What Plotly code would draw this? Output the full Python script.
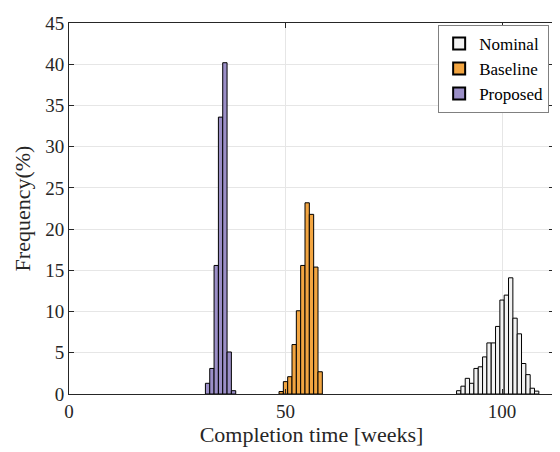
import plotly.graph_objects as go

# Bin centers (weeks) and frequencies (%)
nominal_x = list(range(90, 109))
nominal_y = [0.4, 0.95, 1.9, 1.3, 3.1, 3.3, 4.5, 6.2, 6.2, 8.2, 11.4, 12.0, 14.1, 9.2, 7.3, 3.7, 2.35, 0.7, 0.35]

baseline_x = list(range(49, 59))
baseline_y = [0.3, 1.5, 2.1, 6.0, 10.1, 15.6, 23.2, 21.8, 15.4, 2.7]

proposed_x = list(range(32, 39))
proposed_y = [1.3, 3.1, 15.6, 33.6, 40.2, 5.1, 0.4]

x_ticks = [0, 50, 100]
y_ticks = [0, 5, 10, 15, 20, 25, 30, 35, 40, 45]

FONT = "Liberation Serif"

fig = go.Figure()
for name, xs, ys, col in [
    ("Nominal", nominal_x, nominal_y, "#f2f2f2"),
    ("Baseline", baseline_x, baseline_y, "#f2a541"),
    ("Proposed", proposed_x, proposed_y, "#9b8fc7"),
]:
    fig.add_trace(go.Bar(
        x=xs, y=ys, name=name, width=1.0,
        marker=dict(color=col, line=dict(color="black", width=1)),
    ))

# page body has an 8px margin, so the figure is sized/offset to compensate
fig.update_layout(
    width=552, height=444,
    margin=dict(l=61, r=5, t=11, b=58),
    paper_bgcolor="white", plot_bgcolor="white",
    barmode="overlay",
    font=dict(family=FONT, size=19, color="#262626"),
    showlegend=True,
    legend=dict(
        x=0.99, y=0.995, xanchor="right", yanchor="top",
        bordercolor="#808080", borderwidth=1, bgcolor="white",
        font=dict(family=FONT, size=17, color="black"),
        tracegroupgap=0, itemsizing="constant", itemwidth=30,
    ),
    xaxis=dict(
        range=[0, 112], tickvals=x_ticks, ticks="inside", ticklen=5,
        tickcolor="#262626", showline=True, linecolor="#262626", linewidth=1,
        mirror="ticks", showgrid=True, gridcolor="#e6e6e6", zeroline=False,
        title=dict(text="Completion time [weeks]", font=dict(size=22), standoff=5),
        tickfont=dict(size=19),
    ),
    yaxis=dict(
        range=[0, 45.02], tickvals=y_ticks, ticks="inside", ticklen=5,
        tickcolor="#262626", showline=True, linecolor="#262626", linewidth=1,
        mirror="ticks", showgrid=True, gridcolor="#e6e6e6", zeroline=False,
        title=dict(text="Frequency(%)", font=dict(size=22), standoff=8),
        tickfont=dict(size=19), ticklabeloverflow="allow",
    ),
)

fig.write_html("out.html")
